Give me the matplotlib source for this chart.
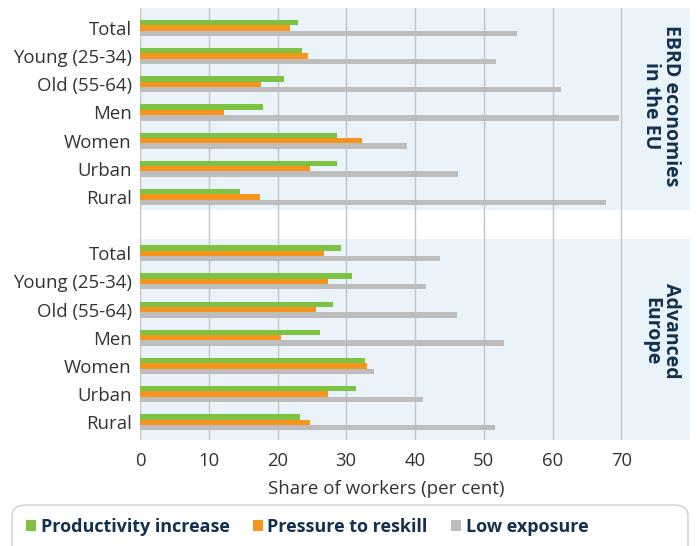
import matplotlib
matplotlib.use("Agg")
import matplotlib.pyplot as plt
from matplotlib.patches import FancyBboxPatch, Patch
import numpy as np

categories = ["Total", "Young (25-34)", "Old (55-64)", "Men", "Women", "Urban", "Rural"]
panels = ["EBRD economies\nin the EU", "Advanced\nEurope"]
series = ["Productivity increase", "Pressure to reskill", "Low exposure"]

eu_productivity = [23.0, 23.5, 20.9, 17.9, 28.6, 28.7, 14.5]
eu_reskill      = [21.8, 24.5, 17.6, 12.2, 32.3, 24.7, 17.5]
eu_low          = [54.9, 51.8, 61.2, 69.6, 38.9, 46.3, 67.8]

adv_productivity = [29.3, 30.8, 28.1, 26.2, 32.7, 31.4, 23.3]
adv_reskill      = [26.7, 27.4, 25.6, 20.5, 33.0, 27.3, 24.7]
adv_low          = [43.7, 41.6, 46.1, 52.9, 34.0, 41.1, 51.6]

xticks = [0, 10, 20, 30, 40, 50, 60, 70]

colors = ["#7dc242", "#f7941d", "#bdbdbd"]
band_color = "#eaf2fa"
navy = "#12304f"
text_gray = "#333333"

plt.rcParams["font.family"] = ["Open Sans", "DejaVu Sans"]

fig = plt.figure(figsize=(6.97, 5.46), dpi=100)
W, H = 697, 546
ax = fig.add_axes([140 / W, 1 - 440 / H, (690 - 140) / W, (440 - 8) / H])

ax.set_xlim(0, 80)
ax.set_ylim(14.63, -0.71)

n = len(categories)
bh = 0.19
data = [(eu_productivity, eu_reskill, eu_low, 0), (adv_productivity, adv_reskill, adv_low, 8)]
bands = [(-0.71, 6.45), (7.5, 14.63)]
for (lo, hi) in bands:
    ax.axhspan(lo, hi, color=band_color, zorder=0, lw=0)

yt, yl = [], []
for (p, r, l, off) in data:
    y = np.arange(n) + off
    ax.barh(y - bh, p, height=bh, color=colors[0], zorder=3)
    ax.barh(y, r, height=bh, color=colors[1], zorder=3)
    ax.barh(y + bh, l, height=bh, color=colors[2], zorder=3)
    yt += list(y)
    yl += categories

for xv in xticks:
    ax.axvline(xv, color="#c4c4c4", lw=1, zorder=1)

ax.set_yticks(yt)
ax.set_yticklabels(yl, fontsize=13.4, color=text_gray)
ax.set_xticks(xticks)
ax.set_xticklabels([str(v) for v in xticks], fontsize=13.3, color=text_gray)
ax.tick_params(axis="both", length=0)
ax.tick_params(axis="x", pad=9)
ax.tick_params(axis="y", pad=6)
for s in ax.spines.values():
    s.set_visible(False)
ax.set_xlabel("Share of workers (per cent)", fontsize=13.5, color=text_gray)
ax.xaxis.label.set_va("top")
ax.xaxis.set_label_coords(0.448, -40 / 432)

# strip labels
ax.text(75.8, (bands[0][0] + bands[0][1]) / 2 - 0.1, panels[0], rotation=-90, ha="center", va="center",
        fontsize=14, fontweight="bold", color=navy, linespacing=0.95)
ax.text(75.8, (bands[1][0] + bands[1][1]) / 2 - 0.3, panels[1], rotation=-90, ha="center", va="center",
        fontsize=14, fontweight="bold", color=navy, linespacing=0.95)

# legend box
box = FancyBboxPatch((12 / W, -20 / H), 676 / W, (41 + 20) / H,
                     boxstyle="round,pad=0,rounding_size=0.02", transform=fig.transFigure,
                     facecolor="white", edgecolor="#d0d0d0", lw=1, clip_on=False)
fig.patches.append(box)
handles = [Patch(facecolor=c, edgecolor="none") for c in colors]
leg = fig.legend(handles, series, loc="center left", bbox_to_anchor=(10 / W, 1 - 527 / H),
                 ncol=3, frameon=False, handlelength=0.55, handleheight=0.55, handletextpad=0.25,
                 columnspacing=1.3, prop={"weight": "bold", "size": 13})
for t in leg.get_texts():
    t.set_color(navy)

fig.savefig("out.png", dpi=100)
